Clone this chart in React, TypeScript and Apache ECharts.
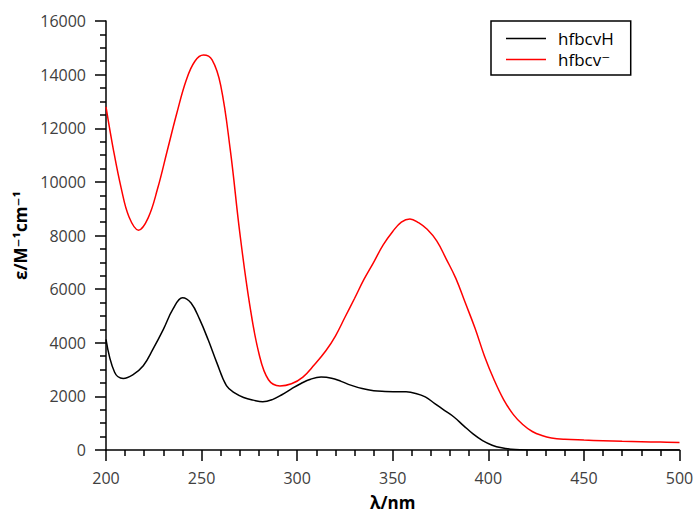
import React, { useEffect, useRef } from "react";
import * as echarts from "echarts";

const seriesNames = ["hfbcvH", "hfbcv⁻"];

const blackX = [200, 204.5, 209, 214, 219.5, 224.5, 230, 235, 240, 244.5, 249, 253.5, 258, 263, 267.5, 272, 277, 282, 287, 292, 297, 302, 307, 312.5, 318, 323, 328, 334, 340, 346, 352, 357, 362, 367, 372, 377, 382, 387, 392, 397, 402, 407, 412, 417, 425, 460, 500];
const blackY = [4130, 2900, 2670, 2800, 3140, 3750, 4500, 5250, 5680, 5480, 4870, 4100, 3250, 2400, 2120, 1960, 1860, 1800, 1880, 2060, 2280, 2480, 2640, 2720, 2680, 2560, 2420, 2290, 2210, 2185, 2175, 2170, 2110, 1980, 1730, 1480, 1230, 910, 600, 350, 180, 80, 30, 10, 0, 0, 0];

const redX = [200, 204, 208, 212, 217, 222, 227, 232, 237, 242, 246.5, 251, 255.5, 260, 265, 270, 275, 280, 285, 291, 297, 303, 309, 315, 320, 325, 330, 335, 340, 345, 350, 354.5, 359, 363.5, 368, 373, 378, 383, 388, 393, 398, 403, 408, 413, 418, 423, 428, 433, 440, 450, 460, 470, 480, 490, 500];
const redY = [12800, 11150, 9750, 8700, 8200, 8650, 9750, 11150, 12550, 13800, 14500, 14730, 14550, 13600, 11200, 8100, 5500, 3600, 2620, 2390, 2470, 2720, 3180, 3700, 4250, 4950, 5650, 6370, 7000, 7650, 8150, 8500, 8620, 8480, 8230, 7800, 7120, 6400, 5480, 4550, 3500, 2620, 1880, 1330, 950, 690, 540, 450, 400, 370, 345, 325, 310, 295, 280];

const xTicks = { min: 200, max: 500, interval: 50 };
const yTicks = { min: 0, max: 16000, interval: 2000 };

const font = "'Open Sans', 'DejaVu Sans', sans-serif";

export default function App() {
  const ref = useRef<HTMLDivElement>(null);
  useEffect(() => {
    if (!ref.current) return;
    const chart = echarts.init(ref.current, undefined, { renderer: "svg" });
    const black = blackX.map((x, i) => [x, blackY[i]]);
    const red = redX.map((x, i) => [x, redY[i]]);
    const axisCommon = {
      axisLine: { show: true, onZero: false, lineStyle: { color: "#000", width: 1.5 } },
      axisTick: { show: true, inside: false, length: 11, lineStyle: { color: "#000", width: 1.5 } },
      minorTick: { show: true, length: 6, lineStyle: { color: "#000", width: 1.5 } },
      splitLine: { show: false },
      minorSplitLine: { show: false },
      nameTextStyle: { fontFamily: font, fontWeight: "bold", fontSize: 17, color: "#000" },
    };
    chart.setOption({
      animation: false,
      backgroundColor: "#fff",
      grid: { left: 106, right: 17.5, top: 21, bottom: 65 },
      legend: {
        orient: "vertical",
        left: 491,
        top: 21,
        data: seriesNames.map((n) => ({ name: n, icon: "rect" })),
        borderColor: "#000",
        borderWidth: 1.5,
        padding: [9, 17, 7, 15],
        itemWidth: 40,
        itemHeight: 1.5,
        itemGap: 4,
        textStyle: { fontFamily: font, fontSize: 17, color: "#000", padding: [0, 0, 0, 7] },
      },
      xAxis: {
        type: "value",
        ...xTicks,
        name: "λ/nm",
        nameLocation: "middle",
        nameGap: 44,
        ...axisCommon,
        minorTick: { ...axisCommon.minorTick, splitNumber: 5 },
        axisLabel: { fontFamily: font, fontSize: 16, color: "#404040", margin: 20 },
      },
      yAxis: {
        type: "value",
        ...yTicks,
        name: "ε/M⁻¹cm⁻¹",
        nameLocation: "middle",
        nameGap: 70,
        ...axisCommon,
        minorTick: { ...axisCommon.minorTick, splitNumber: 4 },
        axisLabel: {
          fontFamily: font,
          fontSize: 16,
          color: "#404040",
          margin: 20,
          formatter: (v: number) => String(v),
        },
      },
      series: [
        {
          name: seriesNames[0],
          type: "line",
          data: black,
          symbol: "none",
          smooth: 0.4,
          lineStyle: { color: "#000", width: 1.5 },
          itemStyle: { color: "#000" },
        },
        {
          name: seriesNames[1],
          type: "line",
          data: red,
          symbol: "none",
          smooth: 0.4,
          lineStyle: { color: "#ff0000", width: 1.5 },
          itemStyle: { color: "#ff0000" },
        },
      ],
    });
    return () => chart.dispose();
  }, []);
  return (
    <div
      ref={ref}
      style={{ position: "fixed", left: 0, top: 0, width: 697, height: 516, background: "#fff" }}
    />
  );
}
